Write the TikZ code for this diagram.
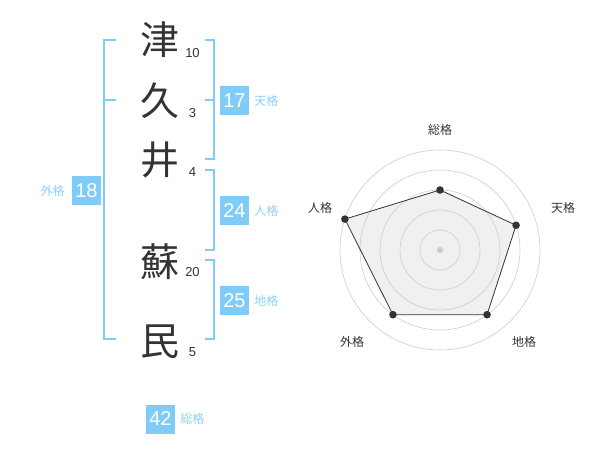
\documentclass[tikz,border=0pt]{standalone}
\usepackage{fontspec}
\setmainfont{Liberation Sans}
\newfontfamily\cjk{Noto Sans CJK JP}
\usepackage{tikz}
\usetikzlibrary{calc}
\usetikzlibrary{positioning}
\definecolor{kakublue}{RGB}{128,204,248}
\definecolor{labelblue}{RGB}{140,208,248}
\definecolor{inkgray}{RGB}{51,51,51}
\definecolor{ringgray}{RGB}{204,204,204}
\definecolor{areagray}{RGB}{240,240,240}

\begin{document}
\begin{tikzpicture}[
  x=1pt, y=-1pt,
  kanji/.style={font=\cjk\fontsize{39}{39}\selectfont, text=inkgray, inner sep=0pt},
  strokes/.style={font=\fontsize{13}{13}\selectfont, text=inkgray, inner sep=0pt},
  score/.style={fill=kakublue, text=white, minimum size=29pt, inner sep=0pt,
                font=\fontsize{20}{20}\selectfont},
  kaku/.style={font=\cjk\fontsize{12}{12}\selectfont, text=labelblue, inner sep=0pt},
  bracket/.style={draw=kakublue, line width=2pt},
  ring/.style={draw=ringgray, line width=0.6pt},
  axislabel/.style={font=\cjk\fontsize{12}{12}\selectfont, text=inkgray, inner sep=0pt}
]
\useasboundingbox (0,0) rectangle (600,470);
% name
\node[kanji] (tsu) at (160,40) {津};
\node[kanji] (ku) at (160,101) {久};
\node[kanji] (i) at (160,160) {井};
\node[kanji] (so) at (160,262) {蘇};
\node[kanji] (min) at (160,342) {民};
\node[strokes] at (192.5,53) {10};
\node[strokes] at (192.5,113) {3};
\node[strokes] at (192.5,172.5) {4};
\node[strokes] at (192.5,272.5) {20};
\node[strokes] at (192.5,352.5) {5};
% brackets
\draw[bracket] (116,40) -- (104,40) -- (104,339) -- (116,339);
\draw[bracket] (116,100) -- (104,100);
\draw[bracket] (205,40) -- (214,40) -- (214,159) -- (205,159);
\draw[bracket] (205,100) -- (214,100);
\draw[bracket] (205,170) -- (214,170) -- (214,250) -- (205,250);
\draw[bracket] (205,260) -- (214,260) -- (214,339) -- (205,339);
% scores
\node[score] (ten) at (234.5,100.5) {17};
\node[kaku, right=5pt of ten] {天格};
\node[score] (jin) at (234.5,210.5) {24};
\node[kaku, right=5pt of jin] {人格};
\node[score] (chi) at (234.5,300.5) {25};
\node[kaku, right=5pt of chi] {地格};
\node[score] (gai) at (86.5,190.5) {18};
\node[kaku, left=7pt of gai] {外格};
\node[score] (sou) at (160.5,419) {42};
\node[kaku, right=5pt of sou] {総格};
% radar
\coordinate (ctr) at (440,250);
\foreach \name/\ang/\rad in {sou/90/60, ten/18/80, chi/-54/80, gai/-126/80, jin/162/100}
  \coordinate (r\name) at ($(ctr)+(\ang:\rad pt)$);
\fill[areagray] (rsou) -- (rten) -- (rchi) -- (rgai) -- (rjin) -- cycle;
\foreach \r in {20,40,60,80,100}
  \draw[ring] (ctr) circle (\r pt);
\fill[ringgray] (ctr) circle (3pt);
\draw[inkgray, line width=0.8pt] (rsou) -- (rten) -- (rchi) -- (rgai) -- (rjin) -- cycle;
\foreach \name in {sou, ten, chi, gai, jin}
  \fill[inkgray] (r\name) circle (3.8pt);
\node[axislabel] at (440,130) {総格};
\node[axislabel] at (563,208) {天格};
\node[axislabel] at (320,208) {人格};
\node[axislabel] at (524,342) {地格};
\node[axislabel] at (352,342) {外格};
\end{tikzpicture}
\end{document}
